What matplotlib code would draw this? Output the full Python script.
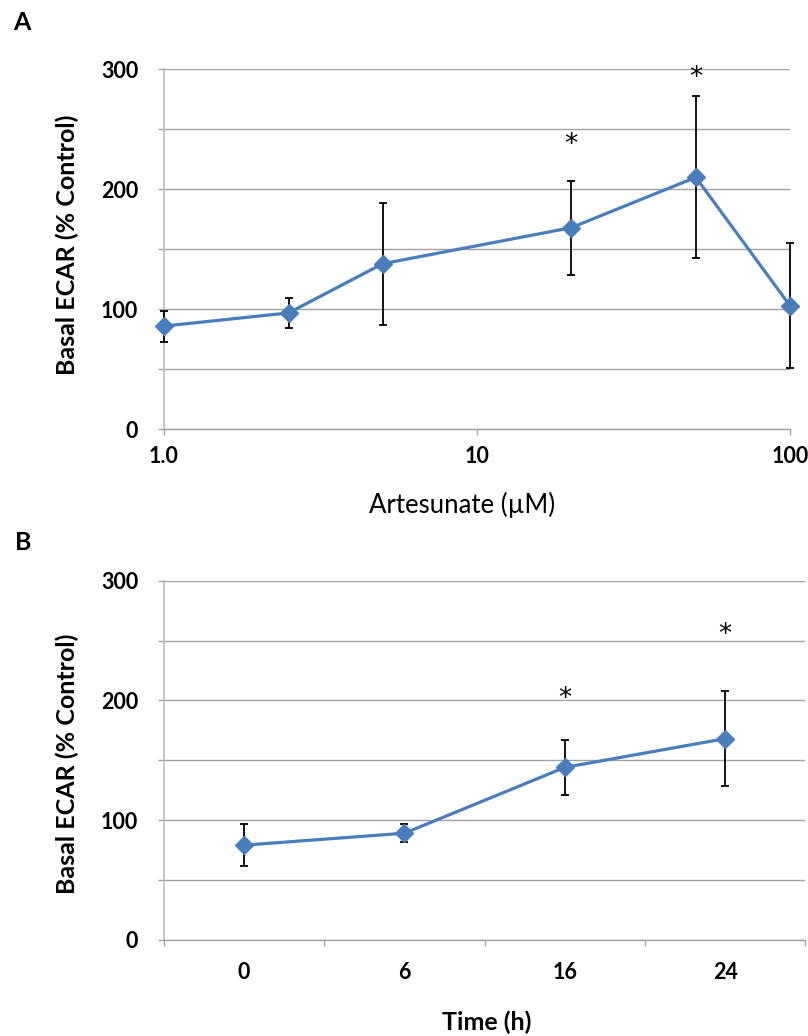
import matplotlib
matplotlib.use('Agg')
import matplotlib.pyplot as plt
from matplotlib.ticker import FixedLocator, NullLocator

# ---------------- data ----------------
conc_uM = [1.0, 2.5, 5, 20, 50, 100]
ecar_a = [86, 97, 138, 168, 210, 103]
err_a = [13, 12.5, 51, 39, 67.5, 52]
sig_a_x = [20, 50]
sig_a_y = [237, 293]
xtick_a = [1, 10, 100]
xtick_a_labels = ['1.0', '10', '100']

time_labels = ['0', '6', '16', '24']
ecar_b = [79, 89, 144, 168]
err_b = [17.5, 7.5, 23, 39.5]
sig_b_idx = [2, 3]
sig_b_y = [201, 255]

yticks = [0, 50, 100, 150, 200, 250, 300]
ytick_labels = ['0', '', '100', '', '200', '', '300']

# ---------------- style ----------------
plt.rcParams['font.family'] = ['Lato', 'DejaVu Sans']
LINE = '#4a7ebb'
GRID = '#a3a3a3'
SPINE = '#bcbcbc'
W, H = 808, 1036

fig = plt.figure(figsize=(W / 100, H / 100), dpi=100)


def style_axes(ax):
    ax.set_ylim(0, 300)
    ax.yaxis.set_major_locator(FixedLocator(yticks))
    ax.set_yticklabels(ytick_labels, fontsize=15.5, fontweight='bold')
    ax.yaxis.grid(True, color=GRID, linewidth=1.0)
    ax.set_axisbelow(True)
    for s in ['top', 'right']:
        ax.spines[s].set_visible(False)
    ax.spines['left'].set_color(SPINE)
    ax.spines['bottom'].set_color(GRID)
    ax.spines['left'].set_linewidth(1.2)
    ax.spines['bottom'].set_linewidth(1.0)
    ax.tick_params(axis='y', which='major', direction='out', length=4.5,
                   color=GRID, width=1.0, pad=14)


def star(ax, x, y):
    ax.text(x, y, '*', fontsize=19, ha='center', va='center', color='black',
            family='DejaVu Sans')


# ---------------- panel A ----------------
axA = fig.add_axes([164 / W, 1 - 429.3 / H, 626 / W, 360 / H])
style_axes(axA)
axA.set_xscale('log')
axA.set_xlim(1, 100)
axA.xaxis.set_major_locator(FixedLocator(xtick_a))
axA.xaxis.set_minor_locator(NullLocator())
axA.set_xticklabels(xtick_a_labels, fontsize=15.5, fontweight='bold')
axA.tick_params(axis='x', which='major', direction='out', length=4,
                color=GRID, width=1.0, pad=8)
axA.errorbar(conc_uM, ecar_a, yerr=err_a, fmt='none', ecolor='black',
             elinewidth=1.3, capsize=3.2, capthick=1.3, zorder=3, clip_on=False)
axA.plot(conc_uM, ecar_a, color=LINE, lw=2.3, marker='D', markersize=9,
         zorder=4, clip_on=False)
for x, y in zip(sig_a_x, sig_a_y):
    star(axA, x, y)

# ---------------- panel B ----------------
axB = fig.add_axes([164 / W, 1 - 939.7 / H, 641.3 / W, 359 / H])
style_axes(axB)
xb = [i + 0.5 for i in range(len(time_labels))]
axB.set_xlim(0, len(time_labels))
axB.xaxis.set_major_locator(FixedLocator(range(len(time_labels) + 1)))
axB.set_xticklabels([''] * (len(time_labels) + 1))
axB.xaxis.set_minor_locator(FixedLocator(xb))
axB.set_xticklabels(time_labels, minor=True, fontsize=15.5, fontweight='bold')
axB.tick_params(axis='x', which='major', direction='out', length=4.5,
                color=GRID, width=1.0)
axB.tick_params(axis='x', which='minor', length=0, pad=16)
axB.errorbar(xb, ecar_b, yerr=err_b, fmt='none', ecolor='black',
             elinewidth=1.3, capsize=3.2, capthick=1.3, zorder=3, clip_on=False)
axB.plot(xb, ecar_b, color=LINE, lw=2.3, marker='D', markersize=9,
         zorder=4, clip_on=False)
for i, y in zip(sig_b_idx, sig_b_y):
    star(axB, xb[i], y)

# ---------------- labels ----------------
fig.text(67 / W, 1 - 245 / H, 'Basal ECAR (% Control)', rotation=90,
         ha='center', va='center', fontsize=18, fontweight='bold')
fig.text(67 / W, 1 - 764 / H, 'Basal ECAR (% Control)', rotation=90,
         ha='center', va='center', fontsize=18, fontweight='bold')
fig.text(462 / W, 1 - 505 / H, 'Artesunate (µM)', ha='center', va='center',
         fontsize=18.5)
fig.text(487 / W, 1 - 1022 / H, 'Time (h)', ha='center', va='center',
         fontsize=18, fontweight='bold')
fig.text(22 / W, 1 - 22 / H, 'A', ha='center', va='center', fontsize=18,
         fontweight='bold')
fig.text(23 / W, 1 - 543 / H, 'B', ha='center', va='center', fontsize=18,
         fontweight='bold')

fig.savefig('out.png', dpi=100)
